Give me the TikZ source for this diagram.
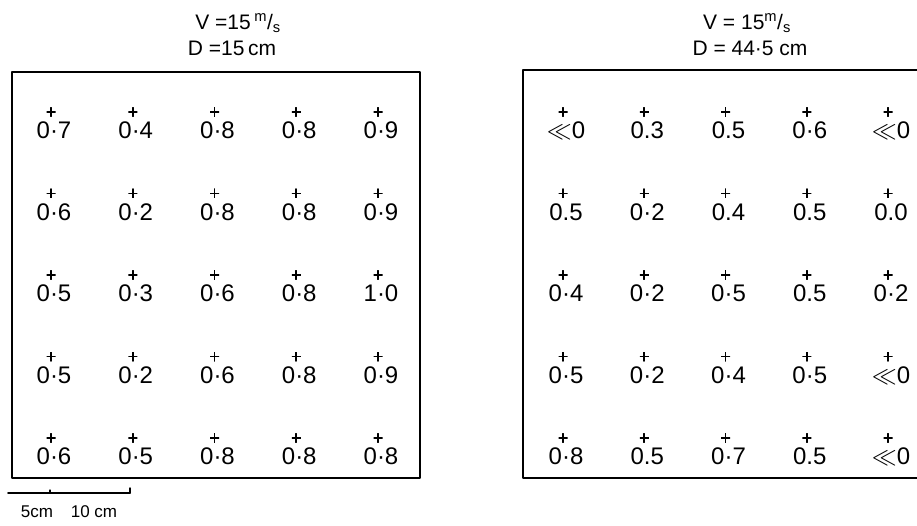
\documentclass[tikz,border=0pt]{standalone}
\usepackage{fontspec}
\setmainfont{Liberation Sans}
\usetikzlibrary{positioning}

\tikzset{
  duct/.style={line width=1.5pt},
  probe/.style={minimum size=9pt, inner sep=0pt,
    path picture={\draw[line width=1.6pt]
      (path picture bounding box.west) -- (path picture bounding box.east)
      (path picture bounding box.north) -- (path picture bounding box.south);}},
  reading/.style={inner sep=0pt, text height=17pt, text depth=0pt,
    font=\fontsize{24}{27}\selectfont},
  heading/.style={inner sep=0pt, font=\fontsize{21}{24}\selectfont},
  scalelabel/.style={inner sep=0pt, font=\fontsize{17}{20}\selectfont},
}

\begin{document}
\begin{tikzpicture}[x=1pt, y=-1pt, line join=round, line cap=round]
    \useasboundingbox (0,0) rectangle (917,526);

    % the two duct sections
    \draw[duct] (12,72) rectangle (420,478);
    \draw[duct] (523,70) rectangle (930,478);

    \node[heading] (hdL-v) at (238,23) {V =15\,\textsuperscript{m}/\textsubscript{s}};
    \node[heading] (hdL-d) at (232,48) {D =15\,cm};
    \node[heading] (hdR-v) at (747,23) {V = 15\textsuperscript{m}/\textsubscript{s}};
    \node[heading] (hdR-d) at (750,48) {D = 44·5 cm};

    % left section, D = 15 cm
    \foreach \r/\vals in {
        1/{0·7,0·4,0·8,0·8,0·9},
        2/{0·6,0·2,0·8,0·8,0·9},
        3/{0·5,0·3,0·6,0·8,1·0},
        4/{0·5,0·2,0·6,0·8,0·9},
        5/{0·6,0·5,0·8,0·8,0·8}}
    {
        \foreach \v [count=\c] in \vals {
            \node[probe] (L-\r-\c) at ({51+81.75*(\c-1)},{112+81.5*(\r-1)}) {};
            \node[reading, below=5pt of L-\r-\c, xshift=3pt] (vL-\r-\c) {\v};
        }
    }

    % right section, D = 44.5 cm
    \foreach \r/\vals in {
        1/{$\ll$0,0.3,0.5,0·6,$\ll$0},
        2/{0.5,0·2,0.4,0.5,0.0},
        3/{0·4,0·2,0·5,0.5,0·2},
        4/{0·5,0·2,0·4,0·5,$\ll$0},
        5/{0·8,0.5,0·7,0.5,$\ll$0}}
    {
        \foreach \v [count=\c] in \vals {
            \node[probe] (R-\r-\c) at ({563+81.25*(\c-1)},{112+81.5*(\r-1)}) {};
            \node[reading, below=5pt of R-\r-\c, xshift=3pt] (vR-\r-\c) {\v};
        }
    }

    % scale bar
    \coordinate (bar-a) at (8,493);
    \coordinate (bar-m) at (50,493);
    \coordinate (bar-b) at (130,493);
    \draw[line width=1.6pt] (bar-a) -- (bar-b);
    \draw[line width=1.2pt] (bar-m) -- ++(0,-3);
    \draw[line width=1.4pt] (bar-b) -- ++(0,-5);
    \node[scalelabel] (sc-5) at (37,512) {5cm};
    \node[scalelabel] (sc-10) at (94,512) {10 cm};
\end{tikzpicture}
\end{document}
